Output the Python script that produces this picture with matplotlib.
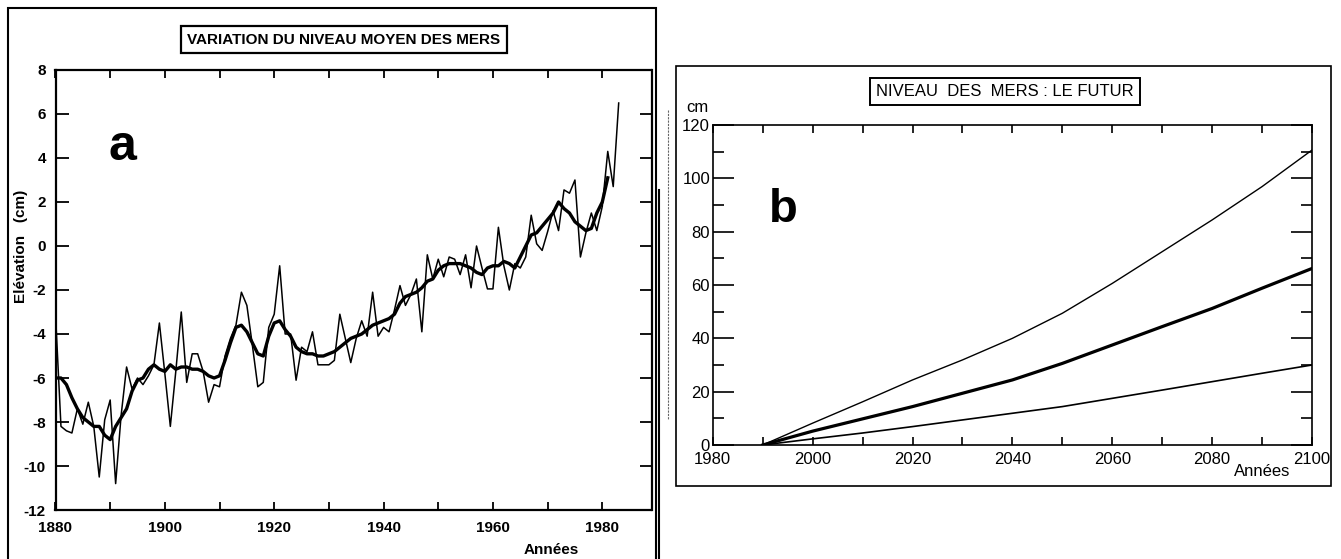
import matplotlib
matplotlib.use("Agg")
import matplotlib.pyplot as plt
from matplotlib.patches import Rectangle
from matplotlib.lines import Line2D
import numpy as np

plt.rcParams['font.family'] = ['Liberation Sans', 'DejaVu Sans']
plt.rcParams['axes.unicode_minus'] = False

# --- a : variation du niveau moyen des mers (cm), annual + smoothed
annees_a = list(range(1880, 1984))
annuel = [-3.1, -8.2, -8.4, -8.5, -7.4, -8.1, -7.1, -8.2, -10.5, -7.9,
          -7.0, -10.8, -7.7, -5.5, -6.5, -6.0, -6.3, -5.9, -5.4, -3.5,
          -5.8, -8.2, -5.7, -3.0, -6.2, -4.9, -4.9, -5.7, -7.1, -6.3,
          -6.4, -5.0, -4.2, -3.6, -2.1, -2.7, -4.5, -6.4, -6.2, -3.7,
          -3.1, -0.9, -4.0, -4.0, -6.1, -4.6, -4.8, -3.9, -5.4, -5.4,
          -5.4, -5.2, -3.1, -4.2, -5.3, -4.2, -3.4, -4.1, -2.1, -4.1,
          -3.7, -3.9, -2.9, -1.8, -2.7, -2.2, -1.5, -3.9, -0.4, -1.5,
          -0.6, -1.4, -0.5, -0.6, -1.3, -0.4, -1.9, 0.0, -1.0, -1.95,
          -1.95, 0.85, -0.9, -2.0, -0.8, -1.0, -0.5, 1.4, 0.1, -0.2,
          0.65, 1.6, 0.7, 2.55, 2.4, 3.0, -0.5, 0.6, 1.5, 0.7,
          1.8, 4.3, 2.7, 6.5]
annees_lisse = list(range(1880, 1982))
lisse = [-6.0, -6.0, -6.3, -6.9, -7.4, -7.8, -8.0, -8.2, -8.2, -8.6,
         -8.8, -8.2, -7.8, -7.4, -6.6, -6.1, -6.0, -5.6, -5.4, -5.6,
         -5.7, -5.4, -5.6, -5.5, -5.5, -5.6, -5.6, -5.7, -5.9, -6.0,
         -5.9, -5.2, -4.4, -3.7, -3.6, -3.9, -4.4, -4.9, -5.0, -4.1,
         -3.5, -3.4, -3.8, -4.1, -4.6, -4.8, -4.9, -4.9, -5.0, -5.0,
         -4.9, -4.8, -4.6, -4.4, -4.2, -4.1, -4.0, -3.8, -3.6, -3.5,
         -3.4, -3.3, -3.1, -2.6, -2.3, -2.2, -2.1, -1.9, -1.6, -1.5,
         -1.1, -0.9, -0.8, -0.8, -0.8, -0.9, -1.0, -1.2, -1.3, -1.0,
         -0.9, -0.9, -0.7, -0.8, -1.0, -0.5, 0.0, 0.5, 0.6, 0.9,
         1.2, 1.5, 2.0, 1.7, 1.5, 1.1, 0.9, 0.7, 0.8, 1.5,
         2.0, 3.1]

# --- b : niveau des mers, le futur (cm)
annees_b = [1990, 2000, 2010, 2020, 2030, 2040, 2050, 2060, 2070, 2080, 2090, 2100]
haut = [0, 8.2, 16.2, 24.4, 31.9, 40.0, 49.4, 60.6, 72.5, 84.4, 96.9, 110.6]
moyen = [0, 5.2, 9.8, 14.4, 19.4, 24.4, 30.6, 37.5, 44.4, 51.2, 58.8, 66.2]
bas = [0, 2.3, 4.5, 6.9, 9.4, 11.9, 14.4, 17.5, 20.6, 23.75, 26.9, 30.0]

W, H = 1341, 559
fig = plt.figure(figsize=(W / 100, H / 100), dpi=100)


def fx(px):
    return px / W


def fy(py):
    return 1 - py / H


# frames
fig.add_artist(Rectangle((fx(8), -0.05), fx(656) - fx(8), fy(8) + 0.05,
                         transform=fig.transFigure, fill=False, lw=1.5, ec='black'))
fig.add_artist(Rectangle((fx(676), fy(486)), fx(1331) - fx(676), fy(66) - fy(486),
                         transform=fig.transFigure, fill=False, lw=1.2, ec='black'))
fig.add_artist(Line2D([fx(659), fx(659)], [fy(190), 0], transform=fig.transFigure,
                      lw=1.5, color='black'))
fig.add_artist(Line2D([fx(668), fx(668)], [fy(110), fy(420)], transform=fig.transFigure,
                      lw=0.8, color='0.4', ls=(0, (2, 1))))

# ---------- chart a
ax1 = fig.add_axes([fx(55.5), fy(510), fx(651.5) - fx(55.5), fy(70) - fy(510)])
ax1.plot(annees_a, annuel, color='black', lw=1.1)
ax1.plot(annees_lisse, lisse, color='black', lw=2.4)
ax1.set_xlim(1880, 1989)
ax1.set_ylim(-12, 8)
ax1.set_xticks(range(1880, 1990, 20))
ax1.set_xticks(range(1880, 1990, 10), minor=True)
ax1.set_yticks(range(-12, 9, 2))
ax1.tick_params(which='both', direction='in', top=True, right=True, width=1.3)
ax1.tick_params(axis='x', which='both', length=6, pad=8)
ax1.tick_params(axis='y', which='major', length=9, pad=7)
for lab in ax1.get_xticklabels() + ax1.get_yticklabels():
    lab.set_fontweight('bold')
    lab.set_fontsize(11)
for s in ax1.spines.values():
    s.set_linewidth(1.6)
ax1.text(1892.2, 4.5, 'a', fontsize=36, fontweight='bold', ha='center', va='center')

fig.text(fx(21), fy(246), 'Elévation   (cm)', rotation=90, fontsize=11,
         fontweight='bold', ha='center', va='center')
fig.text(fx(551), fy(550), 'Années', fontsize=11, fontweight='bold', ha='center', va='center')
fig.text(fx(344), fy(39.5), 'VARIATION DU NIVEAU MOYEN DES MERS', fontsize=11,
         fontweight='bold', ha='center', va='center',
         bbox=dict(boxstyle='square,pad=0.45', fc='white', ec='black', lw=1.6))

# ---------- chart b
ax2 = fig.add_axes([fx(712.8), fy(445), fx(1312) - fx(712.8), fy(125) - fy(445)])
ax2.plot(annees_b, haut, color='black', lw=1.0)
ax2.plot(annees_b, moyen, color='black', lw=2.3)
ax2.plot(annees_b, bas, color='black', lw=1.2)
ax2.set_xlim(1980, 2100)
ax2.set_ylim(0, 120)
ax2.set_xticks(range(1980, 2101, 20))
ax2.set_xticks(range(1980, 2101, 10), minor=True)
ax2.set_yticks(range(0, 121, 20))
ax2.set_yticks(range(0, 121, 10), minor=True)
ax2.tick_params(which='both', direction='in', top=True, right=True, width=1.2,
                labelsize=12)
ax2.tick_params(axis='x', which='both', length=6, pad=5)
ax2.tick_params(axis='y', which='major', length=15, pad=2)
ax2.tick_params(axis='y', which='minor', length=8)
for s in ax2.spines.values():
    s.set_linewidth(1.2)
ax2.text(1994.1, 88, 'b', fontsize=34, fontweight='bold', ha='center', va='center')

fig.text(fx(697), fy(108), 'cm', fontsize=12, ha='center', va='center')
fig.text(fx(1262), fy(471), 'Années', fontsize=12, ha='center', va='center')
fig.text(fx(1005), fy(91.5), 'NIVEAU  DES  MERS : LE FUTUR', fontsize=12,
         ha='center', va='center',
         bbox=dict(boxstyle='square,pad=0.35', fc='white', ec='black', lw=1.4))

fig.savefig('out.png', dpi=100)
